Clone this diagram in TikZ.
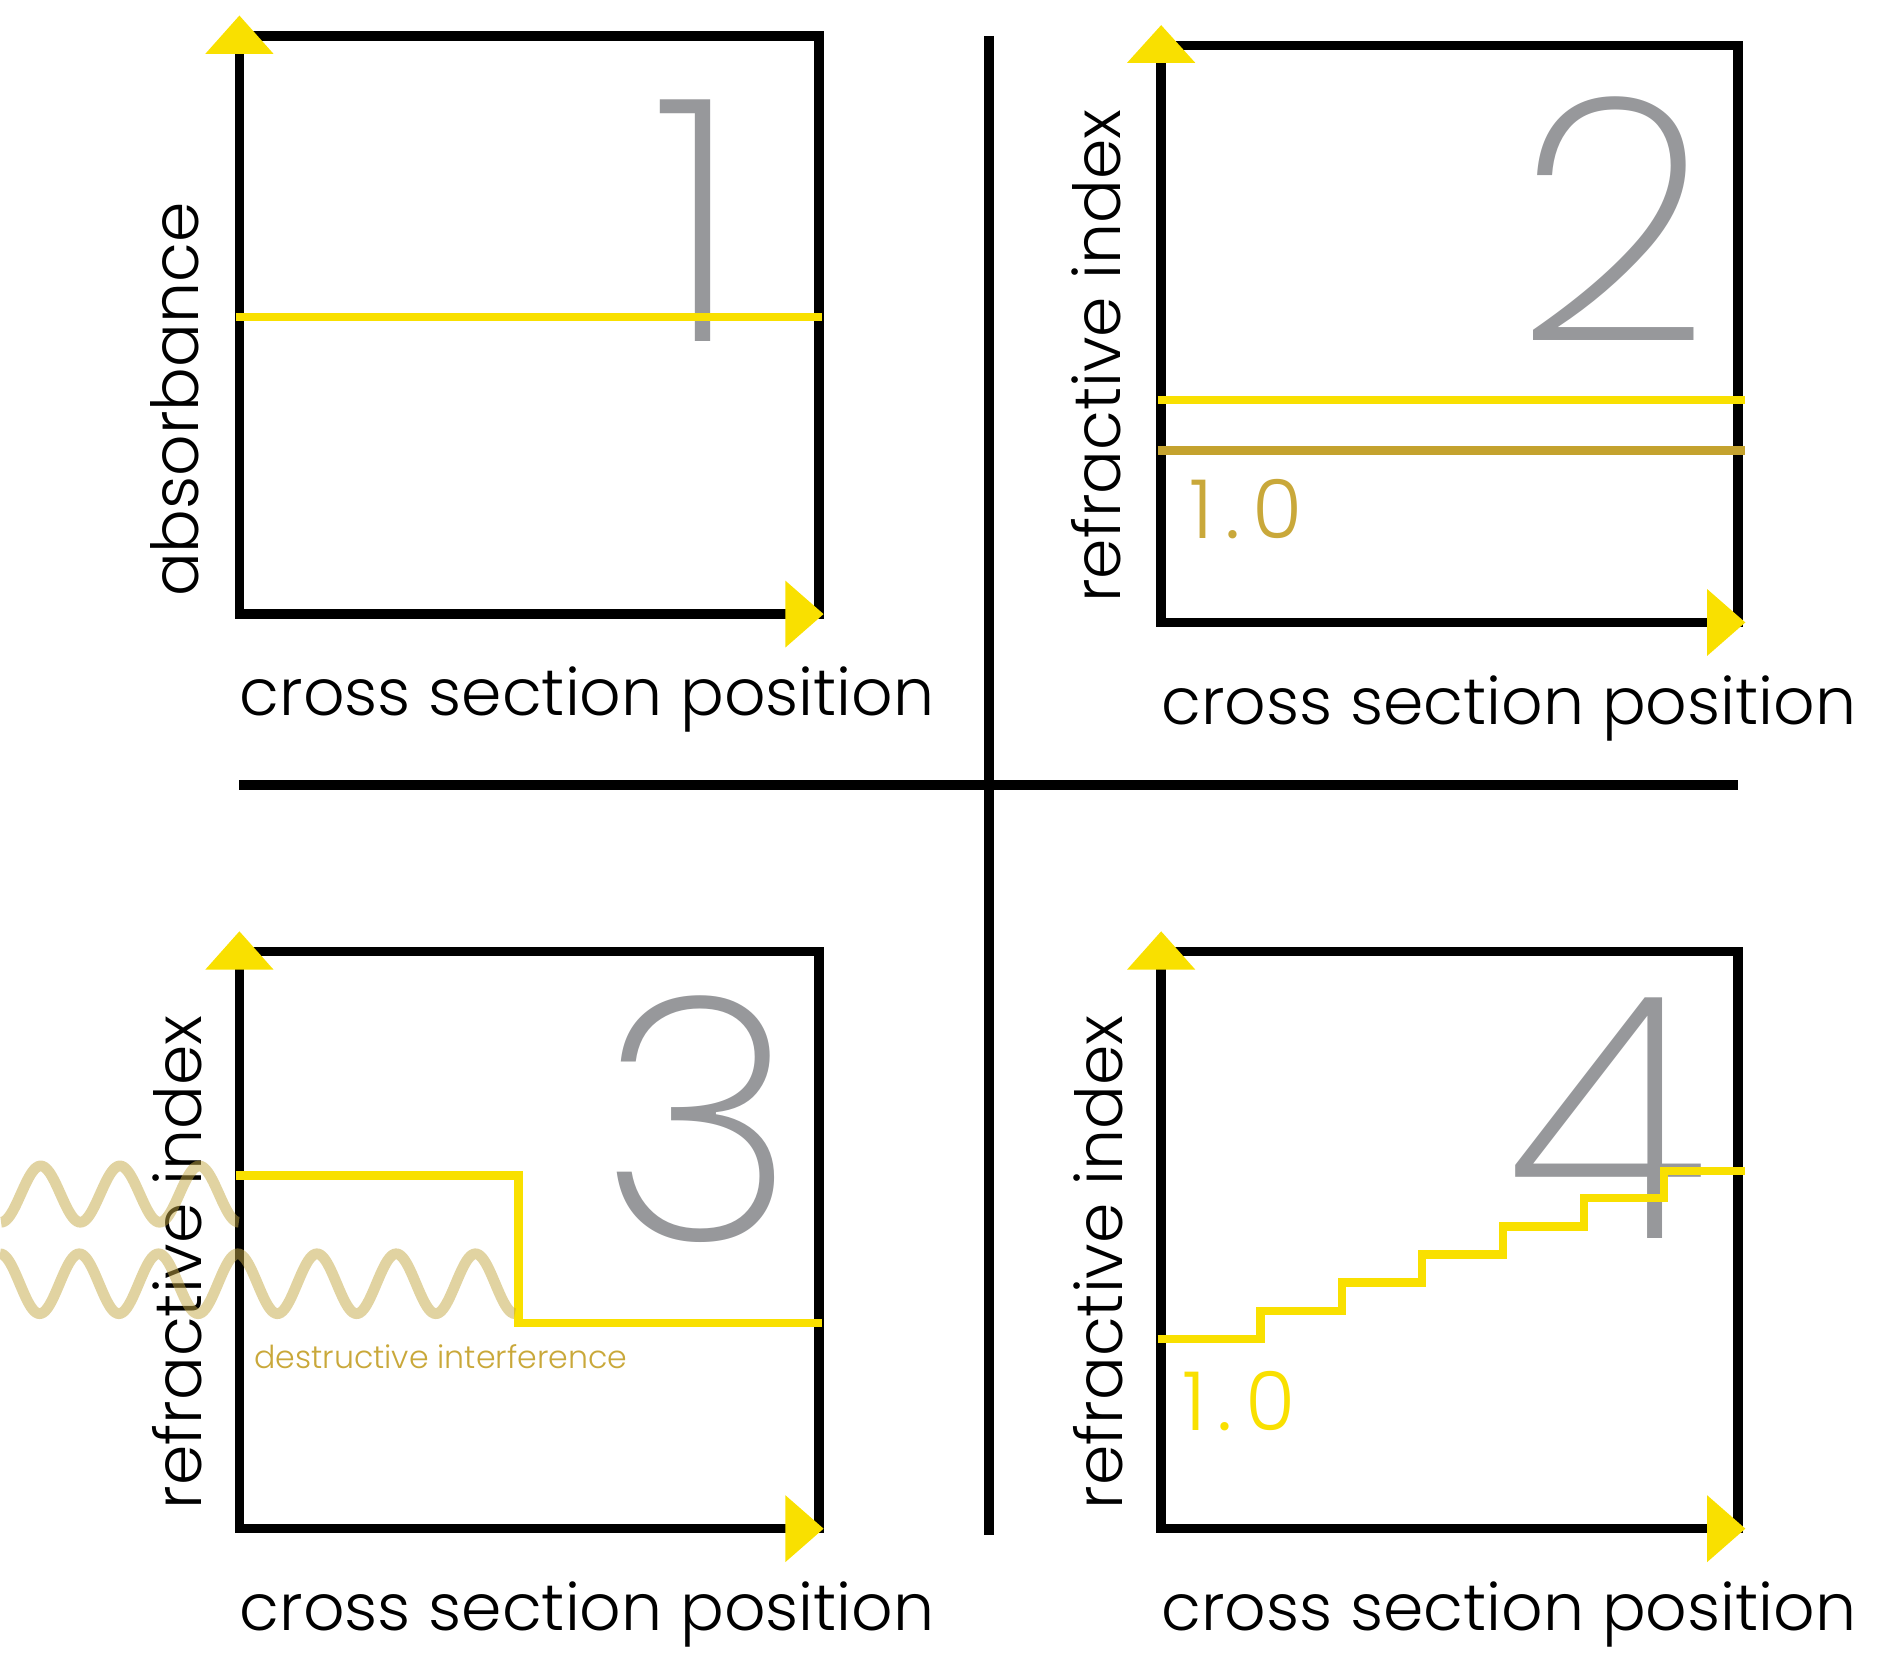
\documentclass[tikz,border=0pt]{standalone}
\usepackage{fontspec}
\IfFontExistsTF{Poppins Light}{\setmainfont{Poppins Light}}{\setmainfont{Poppins}}
\IfFontExistsTF{Poppins ExtraLight}{\newfontfamily\digitfont{Poppins ExtraLight}}{\newfontfamily\digitfont{Poppins Light}}
\definecolor{axyellow}{HTML}{F9E000}
\definecolor{axgold}{HTML}{C4A22E}
\definecolor{txgold}{HTML}{C9A83A}
\definecolor{biggray}{HTML}{97989B}
\definecolor{wavetan}{HTML}{C4A844}
\begin{document}
\begin{tikzpicture}[x=0.5pt,y=-0.5pt,
  frame/.style={draw=black,line width=4pt},
  divider/.style={draw=black,line width=4pt},
  curve/.style={draw=axyellow,line width=3.5pt},
  refline/.style={draw=axgold,line width=3.5pt},
  tip/.style={fill=axyellow},
  axlabel/.style={inner sep=0pt,font=\fontsize{27.1}{29}\selectfont,text=black},
  ylabel/.style={axlabel,rotate=90,anchor=base west},
  xlabel/.style={axlabel,anchor=base west},
  bignum/.style={inner sep=0pt,font=\digitfont\fontsize{142}{145}\selectfont,text=biggray,anchor=base east},
  refval/.style={inner sep=0pt,font=\fontsize{34}{36}\selectfont\addfontfeature{LetterSpace=15},anchor=base west},
  note/.style={inner sep=0pt,font=\fontsize{13.2}{15}\selectfont,text=txgold,anchor=base west},
  wave/.style={draw=wavetan,line width=4.5pt,draw opacity=0.5}
]
\useasboundingbox (0,0) rectangle (1568,1395);

% ---------- panel 1 ----------
\begin{scope}[shift={(200,30)}]
  \node[bignum] (n1) at (419,255) {1};
  \draw[frame] (0,0) rectangle (484,483);
  \draw[curve] (-3,235) -- (487,235);
  \fill[tip] (-28.5,15) -- (0,-17) -- (28.5,15) -- cycle;
  \fill[tip] (456,455) -- (488,483) -- (456,511) -- cycle;
  \node[ylabel] (yl1) at (-34,469) {absorbance};
  \node[xlabel] (xl1) at (0,568) {cross section position};
\end{scope}

% ---------- panel 2 ----------
\begin{scope}[shift={(970,38)}]
  \node[bignum] (n2) at (459,247) {2};
  \draw[frame] (0,0) rectangle (482,482);
  \draw[curve] (-3,296) -- (488,296);
  \draw[refline] (-3,338.4) -- (488,338.4);
  \node[refval,text=txgold] (v2) at (23,412) {1.0};
  \fill[tip] (-28.5,14.5) -- (0,-17) -- (28.5,14.5) -- cycle;
  \fill[tip] (456,454) -- (488,482) -- (456,510) -- cycle;
  \node[ylabel] (yl2) at (-34,466) {refractive index};
  \node[xlabel] (xl2) at (0,567) {cross section position};
\end{scope}

% ---------- panel 3 ----------
\begin{scope}[shift={(200,795)}]
  \node[bignum] (n3) at (466,241) {3};
  \draw[frame] (0,0) rectangle (484,482);
  \draw[curve] (-3,187) -- (233,187) -- (233,310) -- (487,310);
  \node[note] (d3) at (12,348) {destructive interference};
  \fill[tip] (-28.5,15) -- (0,-17) -- (28.5,15) -- cycle;
  \fill[tip] (456,454) -- (488,482) -- (456,510) -- cycle;
  \node[ylabel] (yl3) at (-32,466) {refractive index};
  \node[xlabel] (xl3) at (0,567) {cross section position};
\end{scope}

% ---------- panel 4 ----------
\begin{scope}[shift={(970,795)}]
  \node[bignum] (n4) at (457,240) {4};
  \draw[frame] (0,0) rectangle (482,482);
  \draw[curve] (-3,323.6) -- (83,323.6) -- (83,300) -- (151,300) -- (151,276.5)
     -- (218,276.5) -- (218,253) -- (285.6,253) -- (285.6,229.7) -- (353,229.7)
     -- (353,206) -- (420,206) -- (420,183) -- (488,183);
  \node[refval,text=axyellow] (v4) at (17,400) {1.0};
  \fill[tip] (-28.5,15) -- (0,-17) -- (28.5,15) -- cycle;
  \fill[tip] (456,454) -- (488,482) -- (456,510) -- cycle;
  \node[ylabel] (yl4) at (-32,466) {refractive index};
  \node[xlabel] (xl4) at (0,567) {cross section position};
\end{scope}

% ---------- dividers ----------
\coordinate (vt) at (826,30);
\coordinate (vb) at (826,1282);
\coordinate (hl) at (200,656);
\coordinate (hr) at (1452,656);
\draw[divider] (vt) -- (vb);
\draw[divider] (hl) -- (hr);

% ---------- waves (panel 3) ----------
\draw[wave] plot[domain=0.9:199.5,samples=160,smooth] (\x,{997.5+23.5*cos(5.4381*(\x-0.9))});
\draw[wave] plot[domain=0:430.1,samples=300,smooth] (\x,{1072.4-25*cos(5.4381*\x)});
\end{tikzpicture}
\end{document}
